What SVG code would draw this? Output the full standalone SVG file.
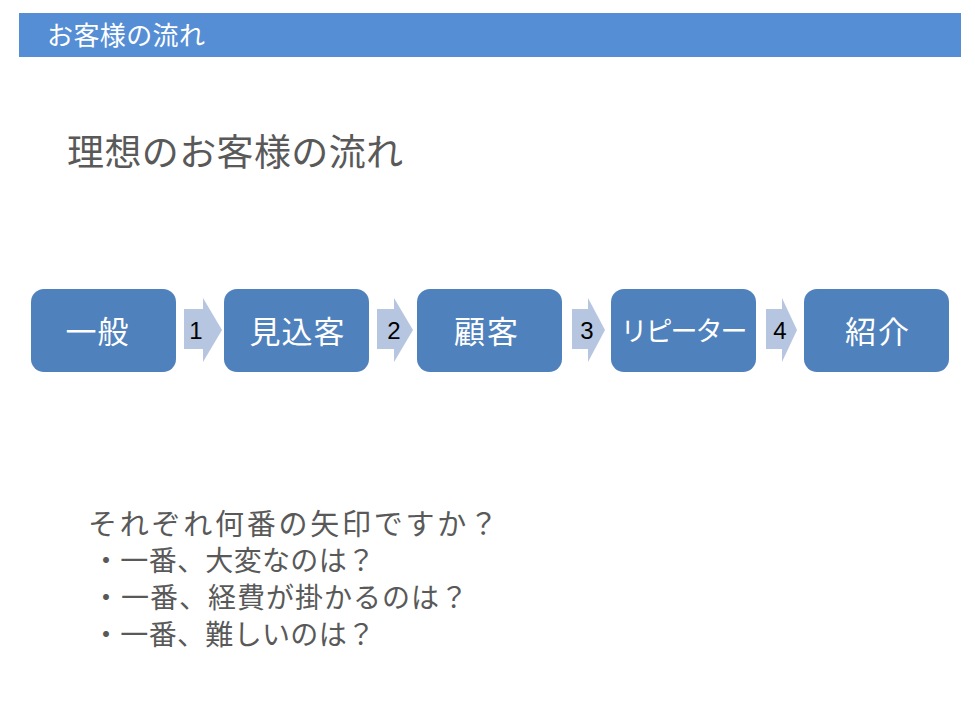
<svg xmlns="http://www.w3.org/2000/svg" width="975" height="703" viewBox="0 0 975 703">
<style>
.jp{font-family:"Noto Sans CJK JP","Noto Sans",sans-serif}
.box{fill:#4F81BD}
.arr{fill:#B6C6E0}
.bt{fill:#FFFFFF;font-size:31px;text-anchor:middle}
.num{font-family:"Liberation Sans",Arial,sans-serif;font-size:24px;fill:#000;text-anchor:middle}
.gray{fill:#595959}
</style>
<rect width="975" height="703" fill="#FFFFFF"/>
<g id="header">
<rect x="19" y="13" width="942" height="44" fill="#558ED5"/>
<text class="jp" x="47" y="45" font-size="26" fill="#FFFFFF" textLength="158" lengthAdjust="spacing">お客様の流れ</text>
</g>
<g id="title">
<text class="jp gray" x="67" y="166" font-size="37" textLength="336" lengthAdjust="spacing">理想のお客様の流れ</text>
</g>
<g id="connectors">
<g id="arrow1"><path class="arr" d="M184,309 H203 V298 L222,330 L203,362 V349 H184 Z"/><text class="num" x="196" y="339">1</text></g>
<g id="arrow2"><path class="arr" d="M377,309 H394 V298 L413,330 L394,362 V349 H377 Z"/><text class="num" x="394" y="339">2</text></g>
<g id="arrow3"><path class="arr" d="M572,309 H588 V298 L605,330 L588,362 V349 H572 Z"/><text class="num" x="587" y="339">3</text></g>
<g id="arrow4"><path class="arr" d="M766,309 H782 V298 L797,330 L782,362 V349 H766 Z"/><text class="num" x="780" y="339">4</text></g>
</g>
<g id="node1"><rect class="box" x="31" y="289" width="145" height="83" rx="13"/><text class="jp bt" x="97" y="343" textLength="63" lengthAdjust="spacing">一般</text></g>
<g id="node2"><rect class="box" x="224" y="289" width="145" height="83" rx="13"/><text class="jp bt" x="297" y="343" textLength="95" lengthAdjust="spacing">見込客</text></g>
<g id="node3"><rect class="box" x="417" y="289" width="145" height="83" rx="13"/><text class="jp bt" x="486" y="343" textLength="64" lengthAdjust="spacing">顧客</text></g>
<g id="node4"><rect class="box" x="611" y="289" width="145" height="83" rx="13"/><text class="jp bt" x="684" y="341" style="font-size:27px" textLength="127" lengthAdjust="spacing">リピーター</text></g>
<g id="node5"><rect class="box" x="804" y="289" width="145" height="83" rx="13"/><text class="jp bt" x="877" y="343" textLength="64" lengthAdjust="spacing">紹介</text></g>
<g id="questions" class="jp gray">
<text x="88" y="535" font-size="29" textLength="410" lengthAdjust="spacing">それぞれ何番の矢印ですか？</text>
<text x="92" y="571" font-size="28" textLength="283" lengthAdjust="spacing">・一番、大変なのは？</text>
<text x="92" y="608" font-size="28" textLength="376" lengthAdjust="spacing">・一番、経費が掛かるのは？</text>
<text x="92" y="645" font-size="28" textLength="283" lengthAdjust="spacing">・一番、難しいのは？</text>
</g>
</svg>
